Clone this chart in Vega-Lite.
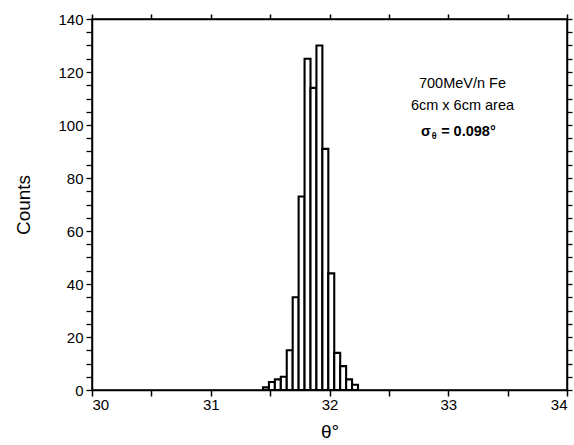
{
  "$schema": "https://vega.github.io/schema/vega-lite/v6.json",
  "width": 475,
  "height": 371,
  "autosize": {"type": "none"},
  "padding": {"left": 92, "top": 19, "right": 7, "bottom": 55},
  "background": "white",
  "config": {
    "view": {"stroke": "black", "strokeWidth": 1.5},
    "font": "Liberation Sans",
    "axis": {
      "grid": false,
      "domainColor": "black",
      "domainWidth": 1.5,
      "labelFont": "Liberation Sans",
      "labelFontSize": 15,
      "labelColor": "black",
      "labelOverlap": false,
      "titleFont": "Liberation Sans",
      "titleFontWeight": "normal",
      "titleColor": "black"
    }
  },
  "layer": [
    {
      "data": {
        "values": [
          {"lo": 31.44, "hi": 31.49, "count": 1},
          {"lo": 31.49, "hi": 31.54, "count": 3},
          {"lo": 31.54, "hi": 31.59, "count": 4},
          {"lo": 31.59, "hi": 31.64, "count": 5},
          {"lo": 31.64, "hi": 31.69, "count": 15},
          {"lo": 31.69, "hi": 31.74, "count": 35},
          {"lo": 31.74, "hi": 31.79, "count": 73},
          {"lo": 31.79, "hi": 31.84, "count": 125},
          {"lo": 31.84, "hi": 31.89, "count": 114},
          {"lo": 31.89, "hi": 31.94, "count": 130},
          {"lo": 31.94, "hi": 31.99, "count": 91},
          {"lo": 31.99, "hi": 32.04, "count": 44},
          {"lo": 32.04, "hi": 32.09, "count": 14},
          {"lo": 32.09, "hi": 32.14, "count": 9},
          {"lo": 32.14, "hi": 32.19, "count": 4},
          {"lo": 32.19, "hi": 32.24, "count": 2}
        ]
      },
      "mark": {"type": "bar", "fill": "white", "stroke": "black", "strokeWidth": 2.1},
      "encoding": {
        "x": {
          "field": "lo",
          "type": "quantitative",
          "scale": {"domain": [30, 34], "nice": false, "zero": false},
          "axis": {
            "orient": "bottom",
            "values": [30, 30.5, 31, 31.5, 32, 32.5, 33, 33.5, 34],
            "labelExpr": "datum.value % 1 === 0 ? format(datum.value, 'd') : ''",
            "ticks": true,
            "tickColor": "black",
            "tickWidth": 1.5,
            "tickSize": 6,
            "labelPadding": 1,
            "title": "θ°",
            "titleFontSize": 19,
            "titlePadding": 10
          }
        },
        "x2": {"field": "hi"},
        "y": {
          "field": "count",
          "type": "quantitative",
          "scale": {"domain": [0, 140], "nice": false},
          "axis": {
            "orient": "left",
            "values": [0, 5, 10, 15, 20, 25, 30, 35, 40, 45, 50, 55, 60, 65, 70, 75, 80, 85, 90, 95, 100, 105, 110, 115, 120, 125, 130, 135, 140],
            "labelExpr": "datum.value % 20 === 0 ? format(datum.value, 'd') : ''",
            "ticks": true,
            "tickColor": "black",
            "tickWidth": 1.3,
            "tickSize": 6,
            "labelPadding": 3,
            "title": "Counts",
            "titleFontSize": 19,
            "titlePadding": 24
          }
        },
        "y2": {"datum": 0}
      }
    },
    {
      "data": {
        "values": [
          {"x": 33.12, "y": 115.5, "t": "700MeV/n Fe"},
          {"x": 33.12, "y": 107.2, "t": "6cm x 6cm area"}
        ]
      },
      "mark": {"type": "text", "fontSize": 14.5, "font": "Liberation Sans", "color": "black", "align": "center", "baseline": "middle"},
      "encoding": {
        "x": {
          "field": "x",
          "type": "quantitative",
          "scale": {"domain": [30, 34], "nice": false, "zero": false},
          "axis": {
            "orient": "top",
            "values": [30, 30.5, 31, 31.5, 32, 32.5, 33, 33.5, 34],
            "labels": false,
            "ticks": true,
            "tickColor": "black",
            "tickWidth": 1.5,
            "title": null,
            "tickSize": 5
          }
        },
        "y": {
          "field": "y",
          "type": "quantitative",
          "scale": {"domain": [0, 140], "nice": false},
          "axis": {
            "orient": "right",
            "values": [0, 5, 10, 15, 20, 25, 30, 35, 40, 45, 50, 55, 60, 65, 70, 75, 80, 85, 90, 95, 100, 105, 110, 115, 120, 125, 130, 135, 140],
            "labels": false,
            "ticks": true,
            "tickColor": "black",
            "tickWidth": 1.3,
            "title": null,
            "tickSize": 5
          }
        },
        "text": {"field": "t"}
      }
    },
    {
      "data": {
        "values": [
          {"x": 32.77, "y": 97.4, "t": "σ"},
          {"x": 32.94, "y": 97.4, "t": "= 0.098°"}
        ]
      },
      "mark": {"type": "text", "fontSize": 14.5, "font": "Liberation Sans", "fontWeight": "bold", "color": "black", "align": "left", "baseline": "middle"},
      "encoding": {
        "x": {"field": "x", "type": "quantitative", "axis": null},
        "y": {"field": "y", "type": "quantitative", "axis": null},
        "text": {"field": "t"}
      }
    },
    {
      "data": {"values": [{"x": 32.86, "y": 95.8, "t": "θ"}]},
      "mark": {"type": "text", "fontSize": 9, "font": "Liberation Sans", "fontWeight": "bold", "color": "black", "align": "left", "baseline": "middle"},
      "encoding": {
        "x": {"field": "x", "type": "quantitative", "axis": null},
        "y": {"field": "y", "type": "quantitative", "axis": null},
        "text": {"field": "t"}
      }
    }
  ],
  "resolve": {"axis": {"x": "independent", "y": "independent"}}
}
